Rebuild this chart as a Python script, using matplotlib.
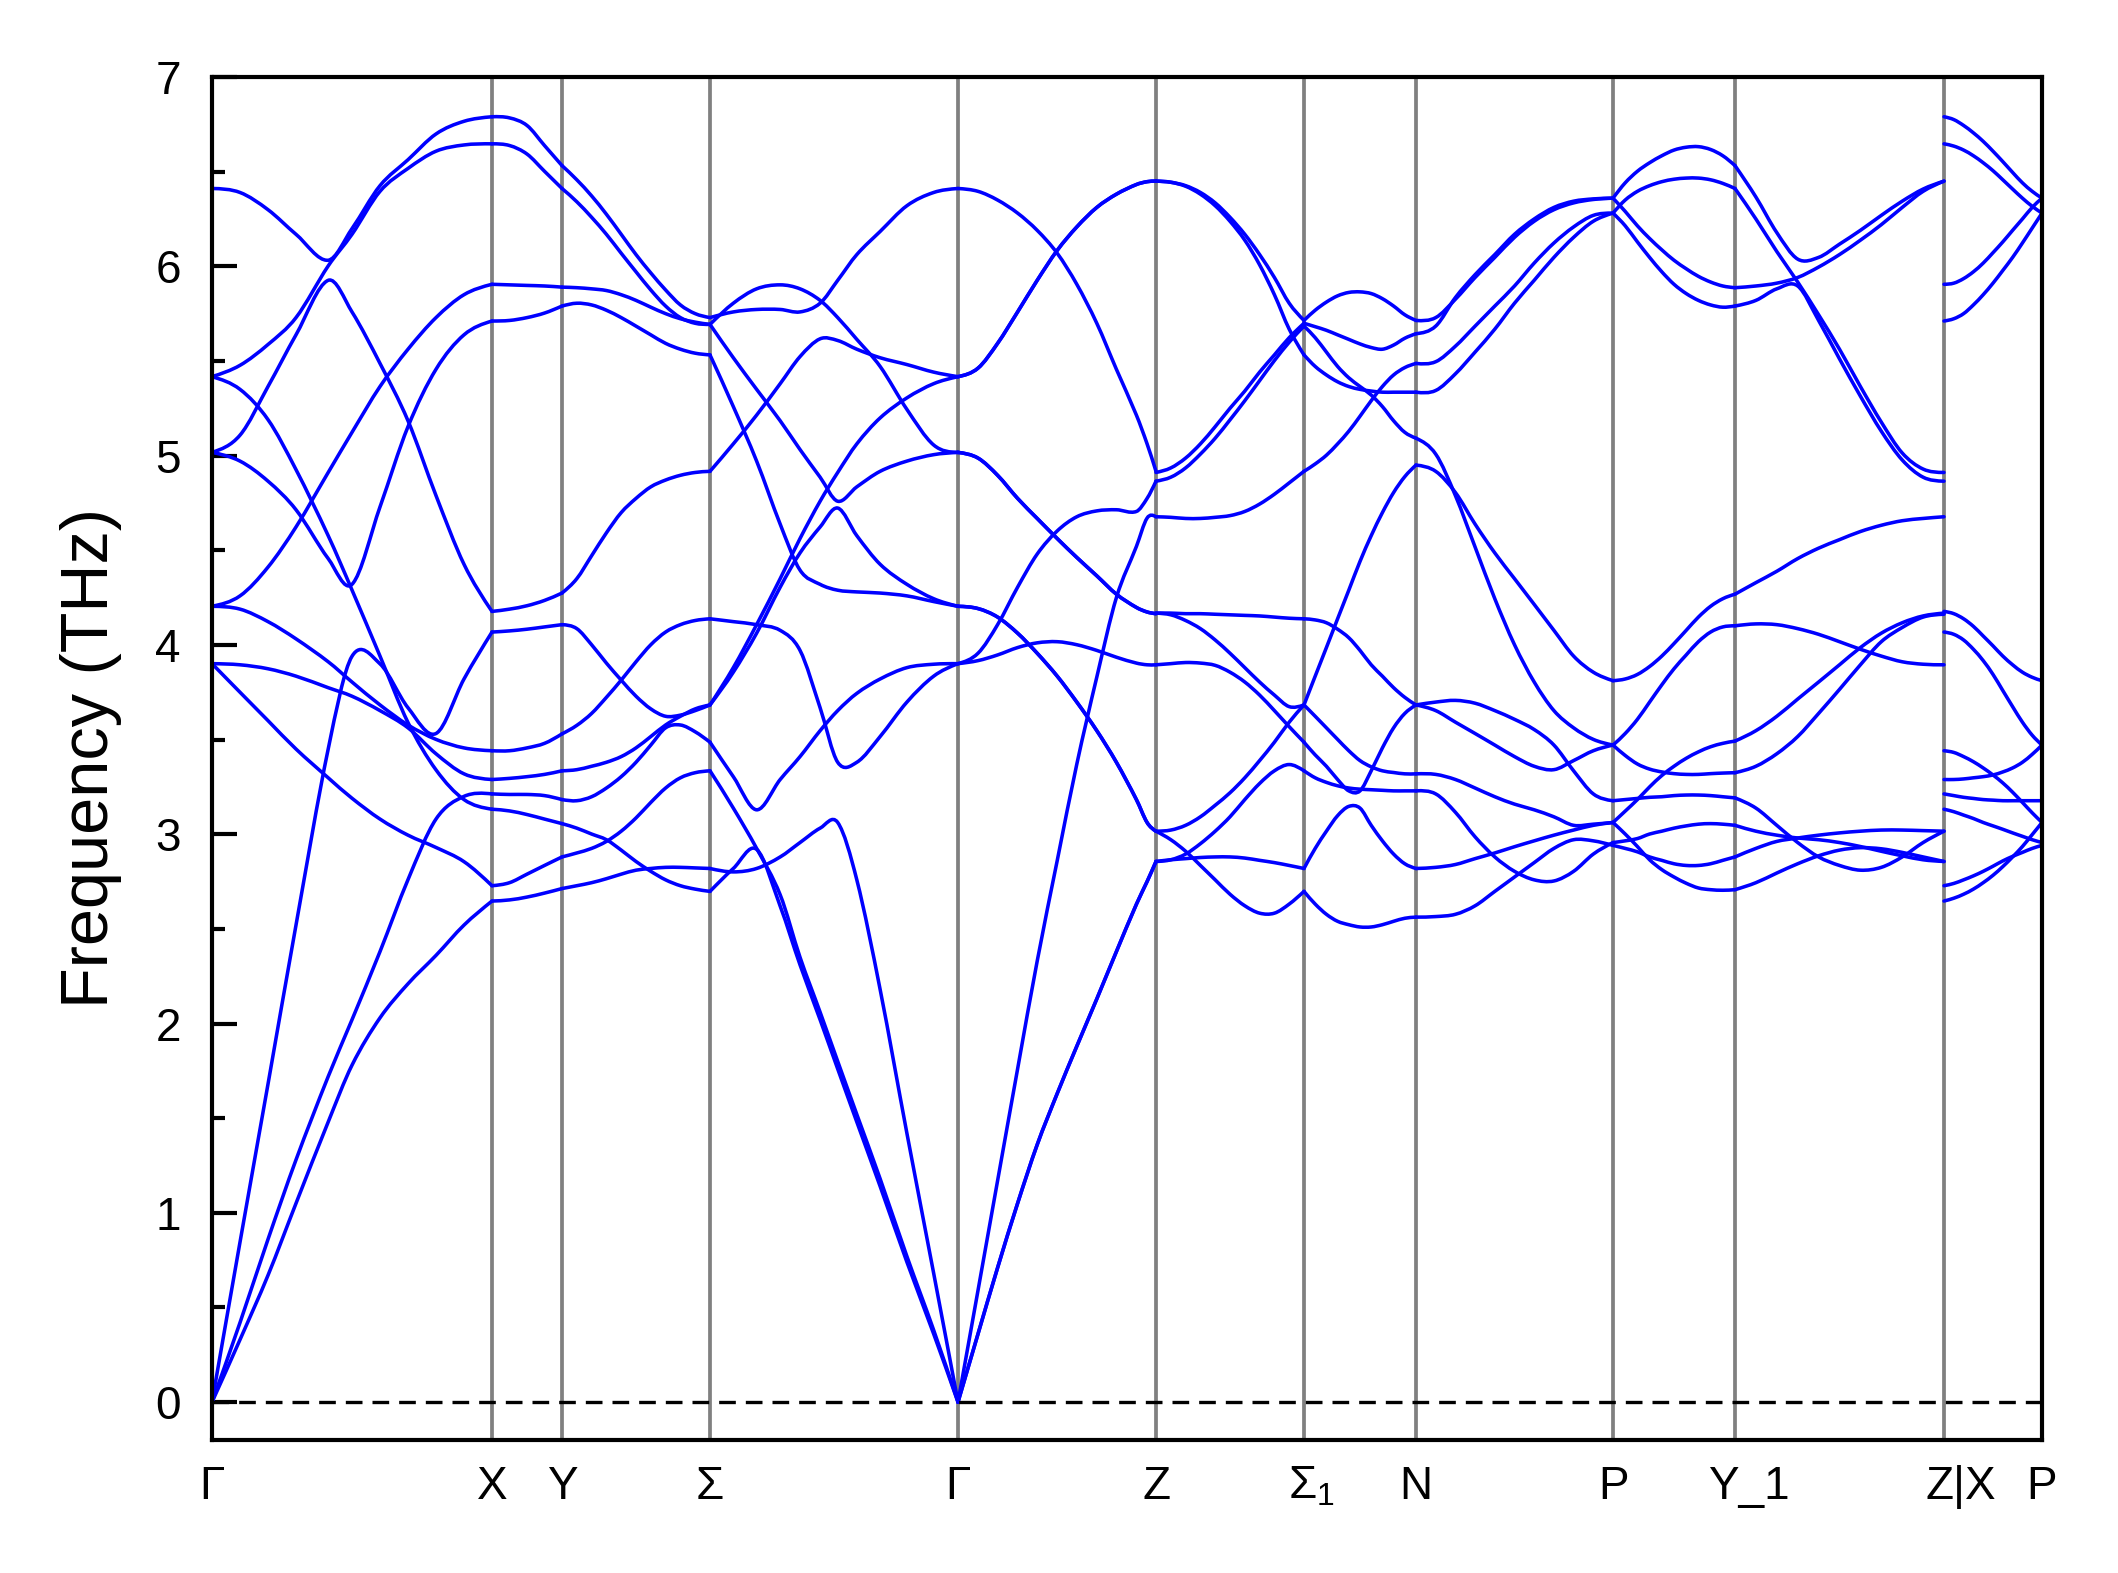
import numpy as np
import matplotlib
matplotlib.use("Agg")
import matplotlib.pyplot as plt
from matplotlib.path import Path
from matplotlib.patches import PathPatch
from matplotlib.ticker import MultipleLocator
from matplotlib.transforms import ScaledTranslation

plt.rcParams['font.family'] = ['Liberation Sans', 'DejaVu Sans']
plt.rcParams['mathtext.fontset'] = 'custom'
plt.rcParams['mathtext.rm'] = 'Liberation Sans'
plt.rcParams['mathtext.it'] = 'Liberation Sans:italic'

# ---------------- data ----------------
kpath = [0, 280, 350, 498, 746, 944, 1092, 1204, 1401, 1523, 1732, 1830]
klabels = ['Γ', 'X', 'Y', 'Σ', 'Γ', 'Z', 'Σ$_1$', 'N', 'P', 'Y_1', 'Z|X', 'P']

T10 = [0, .1, .2, .3, .4, .5, .6, .7, .8, .9, 1.0]

# Gamma -> X
seg1_t = [0, 0.1, 0.2, 0.3, 0.415, 0.5, 0.6, 0.7, 0.8, 0.9, 1.0]
seg1_bands = [
    [6.411, 6.390, 6.299, 6.169, 6.032, 6.199, 6.426, 6.563, 6.699, 6.766, 6.790],
    [5.417, 5.477, 5.587, 5.729, 6.002, 6.169, 6.396, 6.517, 6.608, 6.641, 6.647],
    [5.017, 5.108, 5.365, 5.638, 5.926, 5.759, 5.487, 5.184, 4.789, 4.426, 4.177],
    [5.017, 4.971, 4.865, 4.714, 4.456, 4.320, 4.729, 5.153, 5.456, 5.638, 5.711],
    [5.417, 5.350, 5.190, 4.926, 4.577, 4.290, 3.941, 3.590, 3.340, 3.183, 3.132],
    [4.204, 4.259, 4.411, 4.623, 4.911, 5.123, 5.365, 5.562, 5.729, 5.850, 5.905],
    [4.204, 4.189, 4.123, 4.032, 3.911, 3.804, 3.683, 3.577, 3.501, 3.456, 3.441],
    [3.901, 3.895, 3.874, 3.835, 3.774, 3.729, 3.653, 3.562, 3.425, 3.319, 3.289],
    [3.901, 3.750, 3.600, 3.450, 3.298, 3.190, 3.080, 2.995, 2.930, 2.855, 2.728],
    [0.0, 0.845, 1.68, 2.52, 3.45, 3.94, 3.90, 3.668, 3.532, 3.82, 4.068],
    [0.0, 0.42, 0.86, 1.28, 1.72, 2.02, 2.38, 2.76, 3.08, 3.20, 3.213],
    [0.0, 0.33, 0.67, 1.05, 1.48, 1.78, 2.03, 2.21, 2.36, 2.52, 2.647],
]

# X -> Y
seg2_t = [0, 0.25, 0.5, 0.75, 1.0]
seg2_bands = [
    [6.790, 6.784, 6.744, 6.638, 6.532],
    [6.647, 6.638, 6.593, 6.502, 6.411],
    [5.905, 5.902, 5.899, 5.896, 5.890],
    [5.711, 5.714, 5.729, 5.753, 5.790],
    [4.177, 4.189, 4.207, 4.235, 4.274],
    [4.068, 4.074, 4.083, 4.095, 4.107],
    [3.441, 3.441, 3.456, 3.480, 3.530],
    [3.289, 3.295, 3.304, 3.316, 3.335],
    [3.213, 3.210, 3.210, 3.204, 3.183],
    [3.132, 3.123, 3.104, 3.080, 3.056],
    [2.728, 2.744, 2.789, 2.835, 2.880],
    [2.647, 2.653, 2.668, 2.689, 2.713],
]

# Y -> Sigma
seg3_t = T10
seg3_bands = [
    [6.532, 6.457, 6.372, 6.275, 6.169, 6.062, 5.965, 5.875, 5.796, 5.750, 5.729],
    [6.411, 6.341, 6.259, 6.169, 6.069, 5.971, 5.875, 5.790, 5.729, 5.699, 5.693],
    [5.890, 5.887, 5.881, 5.872, 5.850, 5.820, 5.784, 5.750, 5.723, 5.705, 5.693],
    [5.790, 5.805, 5.796, 5.768, 5.729, 5.684, 5.638, 5.593, 5.562, 5.541, 5.532],
    [4.274, 4.350, 4.471, 4.592, 4.699, 4.774, 4.835, 4.871, 4.896, 4.911, 4.917],
    [4.107, 4.086, 4.001, 3.904, 3.814, 3.729, 3.662, 3.623, 3.629, 3.653, 3.683],
    [3.530, 3.575, 3.638, 3.723, 3.814, 3.911, 4.001, 4.068, 4.107, 4.129, 4.138],
    [3.335, 3.341, 3.359, 3.380, 3.410, 3.456, 3.516, 3.577, 3.623, 3.662, 3.683],
    [3.183, 3.177, 3.198, 3.244, 3.304, 3.380, 3.471, 3.562, 3.577, 3.541, 3.486],
    [3.056, 3.032, 3.001, 2.971, 2.916, 2.856, 2.804, 2.759, 2.728, 2.710, 2.698],
    [2.880, 2.901, 2.925, 2.962, 3.016, 3.086, 3.168, 3.244, 3.298, 3.325, 3.335],
    [2.713, 2.728, 2.744, 2.765, 2.789, 2.810, 2.819, 2.825, 2.825, 2.822, 2.819],
]

# Sigma -> Gamma
seg4_t = [0, 0.094, 0.188, 0.283, 0.363, 0.444, 0.515, 0.592, 0.686, 0.794, 0.902, 1.0]
seg4_bands = [
    [5.693, 5.805, 5.881, 5.902, 5.881, 5.820, 5.729, 5.614, 5.471, 5.244, 5.056, 5.017],
    [5.729, 5.759, 5.772, 5.772, 5.759, 5.805, 5.926, 6.062, 6.184, 6.320, 6.390, 6.411],
    [5.693, 5.517, 5.350, 5.184, 5.032, 4.886, 4.759, 4.835, 4.917, 4.971, 5.005, 5.017],
    [5.532, 5.259, 4.971, 4.638, 4.395, 4.320, 4.289, 4.280, 4.274, 4.259, 4.229, 4.204],
    [4.917, 5.062, 5.214, 5.380, 5.523, 5.617, 5.608, 5.562, 5.517, 5.481, 5.441, 5.417],
    [4.138, 4.123, 4.107, 4.077, 3.971, 3.668, 3.380, 3.380, 3.516, 3.698, 3.835, 3.901],
    [3.683, 3.880, 4.107, 4.350, 4.562, 4.759, 4.911, 5.062, 5.199, 5.305, 5.380, 5.417],
    [3.683, 3.856, 4.062, 4.305, 4.486, 4.623, 4.723, 4.577, 4.426, 4.320, 4.244, 4.204],
    [3.486, 3.304, 3.129, 3.289, 3.410, 3.547, 3.653, 3.744, 3.820, 3.880, 3.898, 3.901],
    [3.335, 3.138, 2.925, 2.68, 2.35, 2.06, 1.80, 1.52, 1.18, 0.77, 0.38, 0.0],
    [2.698, 2.819, 2.920, 2.62, 2.31, 2.02, 1.76, 1.48, 1.14, 0.74, 0.36, 0.0],
    [2.819, 2.801, 2.819, 2.880, 2.956, 3.032, 3.062, 2.759, 2.18, 1.42, 0.68, 0.0],
]

# Gamma -> Z
seg5_t = [0, 0.101, 0.200, 0.301, 0.400, 0.501, 0.600, 0.701, 0.800, 0.901, 0.955, 1.0]
seg5_bands = [
    [6.411, 6.396, 6.350, 6.281, 6.190, 6.069, 5.905, 5.699, 5.456, 5.214, 5.062, 4.917],
    [5.417, 5.462, 5.593, 5.759, 5.926, 6.084, 6.208, 6.311, 6.381, 6.432, 6.447, 6.450],
    [5.417, 5.462, 5.593, 5.759, 5.926, 6.084, 6.208, 6.311, 6.381, 6.432, 6.447, 6.450],
    [5.017, 4.987, 4.896, 4.774, 4.668, 4.562, 4.462, 4.365, 4.268, 4.198, 4.174, 4.165],
    [5.017, 4.987, 4.896, 4.774, 4.668, 4.562, 4.462, 4.365, 4.268, 4.198, 4.174, 4.165],
    [4.204, 4.192, 4.147, 4.062, 3.956, 3.835, 3.698, 3.547, 3.380, 3.183, 3.062, 3.016],
    [4.204, 4.192, 4.147, 4.062, 3.956, 3.835, 3.698, 3.547, 3.380, 3.183, 3.062, 3.016],
    [3.901, 3.956, 4.107, 4.305, 4.480, 4.602, 4.677, 4.708, 4.714, 4.705, 4.774, 4.865],
    [3.901, 3.917, 3.947, 3.986, 4.011, 4.017, 4.001, 3.971, 3.935, 3.904, 3.895, 3.895],
    [0.0, 0.59, 1.17, 1.76, 2.33, 2.86, 3.37, 3.83, 4.25, 4.52, 4.67, 4.677],
    [0.0, 0.36, 0.71, 1.05, 1.36, 1.63, 1.88, 2.13, 2.38, 2.63, 2.75, 2.856],
    [0.0, 0.36, 0.71, 1.05, 1.36, 1.63, 1.88, 2.13, 2.38, 2.63, 2.75, 2.856],
]

# Z -> Sigma_1
seg6_t = T10
seg6_bands = [
    [6.450, 6.444, 6.426, 6.390, 6.335, 6.259, 6.169, 6.062, 5.941, 5.805, 5.714],
    [6.450, 6.444, 6.423, 6.381, 6.320, 6.238, 6.138, 6.008, 5.850, 5.668, 5.532],
    [4.911, 4.935, 4.987, 5.062, 5.153, 5.250, 5.341, 5.441, 5.532, 5.623, 5.699],
    [4.865, 4.886, 4.935, 5.008, 5.092, 5.189, 5.290, 5.396, 5.502, 5.599, 5.684],
    [4.677, 4.674, 4.668, 4.668, 4.674, 4.683, 4.705, 4.744, 4.796, 4.856, 4.917],
    [4.168, 4.168, 4.165, 4.165, 4.162, 4.159, 4.156, 4.153, 4.147, 4.141, 4.138],
    [4.168, 4.159, 4.129, 4.086, 4.026, 3.956, 3.880, 3.804, 3.735, 3.674, 3.683],
    [3.895, 3.901, 3.907, 3.904, 3.892, 3.856, 3.804, 3.735, 3.653, 3.568, 3.486],
    [3.016, 3.022, 3.047, 3.092, 3.153, 3.219, 3.298, 3.389, 3.486, 3.592, 3.683],
    [3.016, 2.971, 2.910, 2.835, 2.759, 2.683, 2.622, 2.583, 2.583, 2.631, 2.698],
    [2.856, 2.865, 2.871, 2.877, 2.880, 2.880, 2.874, 2.862, 2.850, 2.835, 2.819],
    [2.856, 2.865, 2.895, 2.950, 3.016, 3.092, 3.183, 3.268, 3.335, 3.368, 3.335],
]

# Sigma_1 -> N
seg7_t = T10
seg7_bands = [
    [5.714, 5.768, 5.811, 5.844, 5.862, 5.865, 5.856, 5.829, 5.790, 5.744, 5.714],
    [5.699, 5.681, 5.662, 5.638, 5.614, 5.590, 5.571, 5.562, 5.584, 5.620, 5.644],
    [5.684, 5.623, 5.547, 5.471, 5.411, 5.365, 5.320, 5.259, 5.184, 5.123, 5.092],
    [5.532, 5.471, 5.426, 5.390, 5.365, 5.350, 5.341, 5.335, 5.335, 5.335, 5.335],
    [4.917, 4.956, 5.002, 5.062, 5.129, 5.208, 5.290, 5.365, 5.426, 5.465, 5.487],
    [4.138, 4.132, 4.117, 4.083, 4.038, 3.971, 3.895, 3.835, 3.774, 3.723, 3.683],
    [3.683, 3.835, 3.986, 4.138, 4.289, 4.441, 4.577, 4.699, 4.805, 4.889, 4.950],
    [3.683, 3.623, 3.562, 3.501, 3.441, 3.389, 3.356, 3.335, 3.326, 3.319, 3.319],
    [3.486, 3.419, 3.359, 3.289, 3.229, 3.229, 3.335, 3.456, 3.562, 3.638, 3.683],
    [3.335, 3.298, 3.274, 3.256, 3.244, 3.238, 3.235, 3.232, 3.229, 3.229, 3.229],
    [2.819, 2.925, 3.016, 3.098, 3.147, 3.138, 3.047, 2.965, 2.895, 2.844, 2.819],
    [2.698, 2.631, 2.577, 2.540, 2.522, 2.510, 2.510, 2.522, 2.540, 2.556, 2.562],
]

# N -> P
seg8_t = T10
seg8_bands = [
    [5.714, 5.729, 5.826, 5.941, 6.047, 6.153, 6.238, 6.299, 6.335, 6.353, 6.360],
    [5.644, 5.684, 5.835, 5.956, 6.062, 6.169, 6.250, 6.311, 6.344, 6.356, 6.360],
    [5.487, 5.496, 5.578, 5.684, 5.790, 5.896, 6.017, 6.123, 6.208, 6.269, 6.281],
    [5.335, 5.344, 5.432, 5.547, 5.668, 5.805, 5.926, 6.047, 6.153, 6.238, 6.281],
    [5.092, 5.008, 4.789, 4.517, 4.244, 4.001, 3.804, 3.653, 3.562, 3.501, 3.471],
    [4.950, 4.917, 4.805, 4.638, 4.486, 4.350, 4.214, 4.077, 3.941, 3.856, 3.811],
    [3.683, 3.698, 3.707, 3.692, 3.653, 3.607, 3.553, 3.471, 3.335, 3.213, 3.177],
    [3.683, 3.653, 3.592, 3.532, 3.471, 3.410, 3.359, 3.341, 3.389, 3.441, 3.471],
    [3.319, 3.316, 3.289, 3.244, 3.198, 3.159, 3.129, 3.092, 3.047, 3.053, 3.062],
    [3.229, 3.213, 3.116, 2.986, 2.880, 2.804, 2.759, 2.753, 2.804, 2.895, 2.956],
    [2.819, 2.825, 2.840, 2.871, 2.901, 2.934, 2.965, 2.995, 3.022, 3.047, 3.062],
    [2.562, 2.565, 2.577, 2.622, 2.698, 2.774, 2.850, 2.925, 2.971, 2.965, 2.941],
]

# P -> Y_1
seg9_t = T10
seg9_bands = [
    [6.360, 6.441, 6.502, 6.547, 6.584, 6.614, 6.629, 6.632, 6.617, 6.584, 6.532],
    [6.281, 6.350, 6.396, 6.426, 6.447, 6.460, 6.466, 6.466, 6.457, 6.438, 6.411],
    [6.360, 6.290, 6.214, 6.147, 6.087, 6.032, 5.987, 5.947, 5.917, 5.896, 5.887],
    [6.281, 6.214, 6.129, 6.047, 5.971, 5.905, 5.856, 5.820, 5.796, 5.784, 5.790],
    [3.811, 3.820, 3.844, 3.886, 3.941, 4.007, 4.077, 4.147, 4.204, 4.244, 4.268],
    [3.471, 3.532, 3.607, 3.698, 3.789, 3.874, 3.947, 4.017, 4.068, 4.095, 4.101],
    [3.471, 3.416, 3.371, 3.344, 3.329, 3.320, 3.316, 3.316, 3.320, 3.323, 3.325],
    [3.177, 3.183, 3.189, 3.195, 3.198, 3.204, 3.207, 3.207, 3.204, 3.198, 3.192],
    [3.062, 3.122, 3.183, 3.250, 3.310, 3.359, 3.401, 3.435, 3.462, 3.480, 3.492],
    [3.062, 3.001, 2.935, 2.865, 2.813, 2.774, 2.741, 2.716, 2.707, 2.704, 2.707],
    [2.956, 2.965, 2.977, 3.001, 3.016, 3.032, 3.044, 3.053, 3.056, 3.053, 3.047],
    [2.941, 2.925, 2.907, 2.880, 2.862, 2.844, 2.835, 2.835, 2.844, 2.862, 2.880],
]

# Y_1 -> Z
seg10_t = T10
seg10_bands = [
    [6.532, 6.366, 6.178, 6.038, 6.047, 6.117, 6.190, 6.269, 6.344, 6.408, 6.450],
    [6.411, 6.250, 6.078, 5.917, 5.744, 5.562, 5.365, 5.177, 5.014, 4.929, 4.911],
    [5.887, 5.896, 5.911, 5.941, 5.996, 6.062, 6.138, 6.220, 6.311, 6.396, 6.450],
    [5.790, 5.820, 5.881, 5.896, 5.714, 5.511, 5.314, 5.129, 4.977, 4.886, 4.865],
    [4.268, 4.329, 4.389, 4.456, 4.511, 4.556, 4.599, 4.632, 4.656, 4.668, 4.677],
    [4.101, 4.111, 4.107, 4.086, 4.056, 4.017, 3.977, 3.941, 3.911, 3.898, 3.895],
    [3.492, 3.547, 3.623, 3.714, 3.804, 3.895, 3.986, 4.062, 4.117, 4.153, 4.168],
    [3.325, 3.359, 3.425, 3.516, 3.638, 3.765, 3.895, 4.017, 4.092, 4.147, 4.162],
    [3.192, 3.138, 3.047, 2.956, 2.880, 2.835, 2.810, 2.825, 2.880, 2.956, 3.016],
    [3.047, 3.016, 2.995, 2.980, 2.971, 2.956, 2.935, 2.910, 2.886, 2.865, 2.856],
    [2.880, 2.925, 2.962, 2.980, 2.995, 3.007, 3.016, 3.022, 3.022, 3.019, 3.016],
    [2.707, 2.744, 2.795, 2.844, 2.886, 2.916, 2.929, 2.923, 2.904, 2.880, 2.856],
]

# X -> P
seg11_t = T10
seg11_bands = [
    [6.790, 6.775, 6.744, 6.705, 6.660, 6.608, 6.553, 6.496, 6.441, 6.396, 6.360],
    [6.647, 6.635, 6.614, 6.584, 6.547, 6.505, 6.457, 6.408, 6.360, 6.317, 6.281],
    [5.905, 5.911, 5.935, 5.971, 6.017, 6.072, 6.129, 6.190, 6.250, 6.311, 6.360],
    [5.711, 5.723, 5.750, 5.796, 5.850, 5.911, 5.978, 6.047, 6.123, 6.202, 6.281],
    [4.177, 4.165, 4.138, 4.098, 4.047, 3.995, 3.941, 3.895, 3.856, 3.829, 3.811],
    [4.068, 4.056, 4.026, 3.977, 3.917, 3.844, 3.759, 3.674, 3.592, 3.523, 3.471],
    [3.441, 3.432, 3.410, 3.383, 3.350, 3.313, 3.271, 3.222, 3.168, 3.113, 3.062],
    [3.289, 3.289, 3.292, 3.298, 3.304, 3.313, 3.329, 3.350, 3.380, 3.422, 3.471],
    [3.213, 3.204, 3.195, 3.189, 3.183, 3.180, 3.177, 3.177, 3.177, 3.177, 3.177],
    [3.132, 3.119, 3.101, 3.083, 3.062, 3.044, 3.026, 3.007, 2.989, 2.971, 2.956],
    [2.728, 2.740, 2.759, 2.780, 2.804, 2.831, 2.859, 2.883, 2.904, 2.925, 2.941],
    [2.647, 2.662, 2.683, 2.710, 2.744, 2.783, 2.829, 2.880, 2.935, 2.998, 3.062],
]

segments = [
    (0, 1, seg1_t, seg1_bands), (1, 2, seg2_t, seg2_bands), (2, 3, seg3_t, seg3_bands),
    (3, 4, seg4_t, seg4_bands), (4, 5, seg5_t, seg5_bands), (5, 6, seg6_t, seg6_bands),
    (6, 7, seg7_t, seg7_bands), (7, 8, seg8_t, seg8_bands), (8, 9, seg9_t, seg9_bands),
    (9, 10, seg10_t, seg10_bands), (10, 11, seg11_t, seg11_bands),
]


def smooth_path(x, y):
    """Cubic Hermite curve through the points, drawn as Bezier segments."""
    x = np.asarray(x, float)
    y = np.asarray(y, float)
    n = len(x)
    d = np.diff(y) / np.diff(x)
    m = np.empty(n)
    m[1:-1] = (y[2:] - y[:-2]) / (x[2:] - x[:-2])
    m[0] = (3 * d[0] - m[1]) / 2 if n > 2 else d[0]
    m[-1] = (3 * d[-1] - m[-2]) / 2 if n > 2 else d[-1]
    verts = [(x[0], y[0])]
    codes = [Path.MOVETO]
    for i in range(n - 1):
        h = x[i + 1] - x[i]
        verts += [(x[i] + h / 3, y[i] + m[i] * h / 3),
                  (x[i + 1] - h / 3, y[i + 1] - m[i + 1] * h / 3),
                  (x[i + 1], y[i + 1])]
        codes += [Path.CURVE4] * 3
    return Path(verts, codes)


# ---------------- figure ----------------
fig = plt.figure(figsize=(2118 / 300, 1573 / 300), dpi=300)
ax = fig.add_axes([212 / 2118, 1 - 1440 / 1573, (2042 - 212) / 2118, (1440 - 77) / 1573])

for k in kpath[1:-1]:
    ax.axvline(k, color='#808080', lw=0.9, zorder=1)

for i0, i1, t, bands in segments:
    x0, x1 = kpath[i0], kpath[i1]
    xs = [x0 + tt * (x1 - x0) for tt in t]
    for b in bands:
        ax.add_patch(PathPatch(smooth_path(xs, b), facecolor='none',
                               edgecolor='#0000ff', lw=0.85, zorder=2,
                               capstyle='round', joinstyle='round'))

ax.axhline(0, color='black', lw=0.8, ls=(0, (5, 3)), zorder=3)

ax.set_xlim(kpath[0], kpath[-1])
ax.set_ylim(-0.2, 7.0)
ax.set_xticks(kpath)
ax.set_xticklabels(klabels)
ax.yaxis.set_major_locator(MultipleLocator(1))
ax.yaxis.set_minor_locator(MultipleLocator(0.5))
ax.tick_params(axis='x', length=0, pad=6, labelsize=11)
ax.tick_params(axis='y', which='major', direction='in', length=6, width=1.0,
               labelsize=11, pad=7.5)
ax.tick_params(axis='y', which='minor', direction='in', length=3, width=1.0)
ax.set_ylabel('Frequency (THz)', fontsize=16, labelpad=8)
for s in ax.spines.values():
    s.set_linewidth(1.0)

# small horizontal nudges of the composite labels, as in the original
label_shift_pt = {'Σ$_1$': 1.9, 'Y_1': 3.4, 'Z|X': 4.1}
for lab in ax.get_xticklabels():
    dx = label_shift_pt.get(lab.get_text(), 0.0)
    if dx:
        lab.set_transform(lab.get_transform() + ScaledTranslation(dx / 72, 0, fig.dpi_scale_trans))

fig.savefig('out.png', dpi=300)
